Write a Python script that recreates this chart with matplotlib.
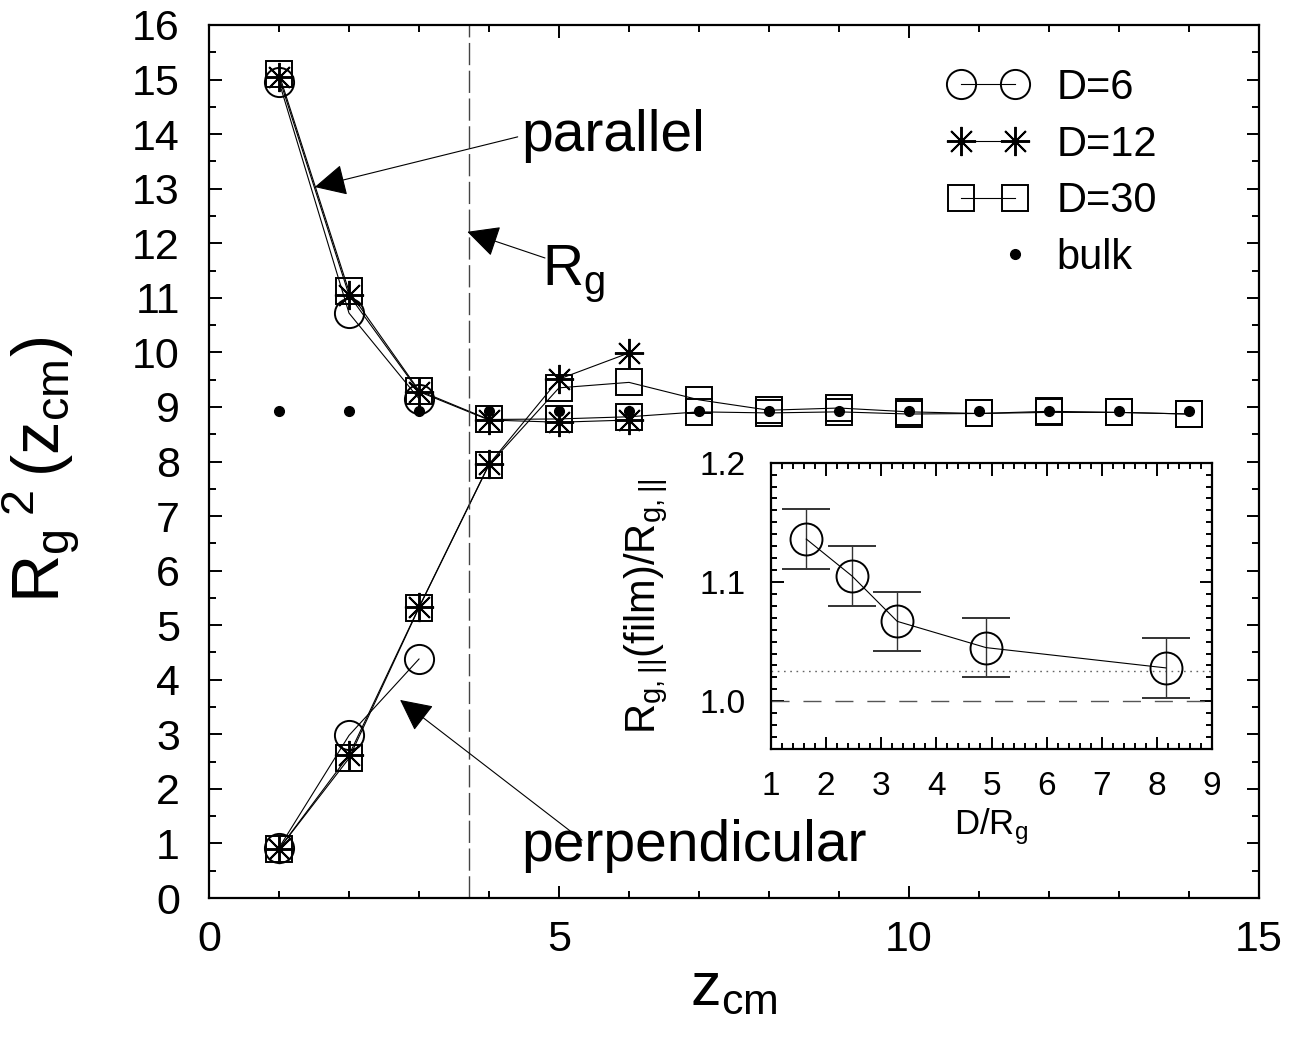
import numpy as np
import matplotlib
matplotlib.use("Agg")
import matplotlib.pyplot as plt
from matplotlib.legend_handler import HandlerLine2D
from matplotlib.ticker import MultipleLocator, FormatStrFormatter

plt.rcParams["font.family"] = ["Liberation Sans", "DejaVu Sans"]
plt.rcParams["mathtext.default"] = "regular"

# ---- main panel data: R_g^2 components vs. centre-of-mass distance ----
z6 = [1, 2, 3]
par6 = [14.96, 10.72, 9.15]
perp6 = [0.92, 2.98, 4.38]

z12 = [1, 2, 3, 4, 5, 6]
par12 = [15.04, 11.05, 9.28, 8.76, 8.72, 8.76]
perp12 = [0.90, 2.62, 5.33, 7.95, 9.51, 9.99]

z30 = [1, 2, 3, 4, 5, 6, 7, 8, 9, 10, 11, 12, 13, 14]
par30 = [15.10, 11.12, 9.30, 8.77, 8.78, 8.82, 8.91, 8.89, 8.91, 8.87, 8.88, 8.90, 8.90, 8.87]
perp30 = [0.90, 2.56, 5.32, 7.94, 9.35, 9.45, 9.13, 8.94, 8.98, 8.91, 8.88, 8.92, 8.90, 8.87]

z_bulk = [1, 2, 3, 4, 5, 6, 7, 8, 9, 10, 11, 12, 13, 14]
bulk = [8.92, 8.92, 8.92, 8.92, 8.92, 8.92, 8.92, 8.92, 8.92, 8.92, 8.92, 8.92, 8.92, 8.92]

rg_position = 3.71

# ---- inset data: parallel size ratio vs. film thickness ----
d_over_rg = [1.64, 2.47, 3.29, 4.90, 8.16]
ratio = [1.136, 1.105, 1.067, 1.045, 1.028]
ratio_err = [0.025, 0.025, 0.0245, 0.025, 0.025]
ratio_level = 1.025
ratio_unity = 1.0

W, H = 1289, 1039
fig = plt.figure(figsize=(W / 100, H / 100), dpi=100)

ax = fig.add_axes([209 / W, 1 - 898 / H, 1050 / W, 873 / H])

line_kw = dict(color="k", lw=0.8, mfc="none", mec="k", mew=1.4)
circ = dict(marker="o", ms=21)
star = dict(marker=(8, 2, 0), ms=21)
sq = dict(marker="s", ms=19)

h6, = ax.plot(z6, par6, label="D=6", **circ, **line_kw)
ax.plot(z6, perp6, **circ, **line_kw)
h12, = ax.plot(z12, par12, label="D=12", **star, **line_kw)
ax.plot(z12, perp12, **star, **line_kw)
h30, = ax.plot(z30, par30, label="D=30", **sq, **line_kw)
ax.plot(z30, perp30, **sq, **line_kw)
hb, = ax.plot(z_bulk, bulk, ls="none", marker="o", ms=7, color="k", label="bulk")

ax.axvline(rg_position, color="#444444", lw=1.0, dashes=(16, 4))

ax.set_xlim(0, 15)
ax.set_ylim(0, 16)
ax.xaxis.set_major_locator(MultipleLocator(5))
ax.xaxis.set_minor_locator(MultipleLocator(1))
ax.yaxis.set_major_locator(MultipleLocator(1))
ax.yaxis.set_minor_locator(MultipleLocator(0.5))
ax.tick_params(which="both", direction="in", top=True, right=True, width=1.4,
               labelsize=31)
ax.tick_params(which="major", length=9)
ax.tick_params(which="minor", length=5)
ax.tick_params(axis="y", pad=21)
ax.tick_params(axis="x", pad=16)
for s in ax.spines.values():
    s.set_linewidth(1.6)

ax.set_xlabel(r"$z_{cm}$", fontsize=44)
ax.xaxis.set_label_coords(0.5, -0.072)
ax.set_ylabel(r"$R_g\,{}^2\,(z_{cm})$", fontsize=48)
ax.yaxis.set_label_coords(-0.12, 0.49)

arrow = dict(arrowstyle="-|>,head_length=0.4,head_width=0.2", mutation_scale=50,
             color="k", lw=0.8, shrinkA=0, shrinkB=0)
ax.annotate("", xy=(1.51, 13.03), xytext=(4.41, 13.95), arrowprops=arrow)
ax.text(4.46, 13.97, "parallel", fontsize=41, ha="left", va="center")
ax.annotate("", xy=(3.69, 12.21), xytext=(4.80, 11.73), arrowprops=arrow)
ax.text(4.76, 11.45, r"$R_g$", fontsize=41, ha="left", va="center")
ax.annotate("", xy=(2.73, 3.63), xytext=(5.33, 1.06), arrowprops=arrow)
ax.text(4.46, 0.95, "perpendicular", fontsize=41, ha="left", va="center")


class EndMarkerHandler(HandlerLine2D):
    """Single marker drawn at the right end of the legend handle."""
    def create_artists(self, *args, **kwargs):
        artists = super().create_artists(*args, **kwargs)
        for a in artists:
            a.set_markevery([1])
        return artists


fs = 30
ax.legend(handles=[h6, h12, h30, hb], handler_map={hb: EndMarkerHandler()},
          loc="upper left", bbox_to_anchor=(948.5 / W, 1 - 68 / H),
          bbox_transform=fig.transFigure, frameon=False, fontsize=fs,
          numpoints=2, handlelength=1.89, handletextpad=0.70,
          labelspacing=0.40, borderpad=0, borderaxespad=0)

# ---- inset ----
ins = fig.add_axes([771 / W, 1 - 749 / H, 441 / W, 286.3 / H])
ins.set_facecolor("white")
ins.axhline(ratio_unity, color="#555555", lw=1.0, dashes=(13, 10))
ins.axhline(ratio_level, color="#666666", lw=1.0, dashes=(1.2, 3.3))
ins.errorbar(d_over_rg, ratio, yerr=ratio_err, fmt="o", color="k", lw=0.8,
             ms=23, mfc="none", mec="k", mew=1.4, ecolor="#333333",
             elinewidth=1.0, capsize=17, capthick=1.0)
ins.plot(d_over_rg, ratio, color="k", lw=0.8)
ins.set_xlim(1, 9)
ins.set_ylim(0.96, 1.2)
ins.xaxis.set_major_locator(MultipleLocator(1))
ins.xaxis.set_minor_locator(MultipleLocator(0.2))
ins.yaxis.set_major_locator(MultipleLocator(0.1))
ins.yaxis.set_minor_locator(MultipleLocator(0.01))
ins.yaxis.set_major_formatter(FormatStrFormatter("%.1f"))
ins.tick_params(which="both", direction="in", top=True, right=True, width=1.4,
                labelsize=24)
ins.tick_params(which="major", length=9)
ins.tick_params(which="minor", length=4.5)
ins.tick_params(axis="y", pad=18)
ins.tick_params(axis="x", pad=16)
for s in ins.spines.values():
    s.set_linewidth(1.6)
ins.set_xlabel(r"$D/R_g$", fontsize=25)
ins.xaxis.set_label_coords(0.5, -0.2)
ins.set_ylabel(r"$R_{g,||}(film)/R_{g,||}$", fontsize=30)
ins.yaxis.set_label_coords(-0.23, 0.5)

fig.savefig("out.png", dpi=100)
